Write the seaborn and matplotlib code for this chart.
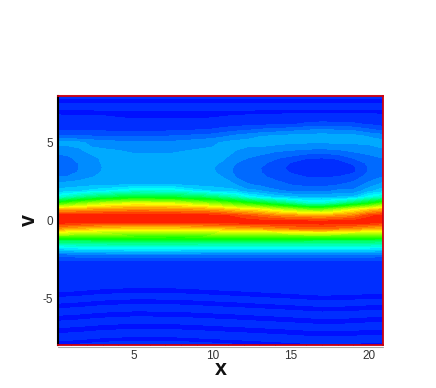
import numpy as np
import seaborn as sns
import matplotlib
matplotlib.use("Agg")
import matplotlib.pyplot as plt

# stations
x_stations = [0.15, 0.8, 1.5, 2.2, 3, 5, 7.5, 10, 10.7, 11.5, 12.2, 13, 14, 15, 16, 17, 18, 19, 20, 20.9]
v_rows = [8, 7.65, 7.3, 7, 6.6, 6.2, 5.8, 5.4, 5, 4.5, 4, 3.7, 3.4, 3.1, 2.8,
          2.3, 1.9, 1.5, 1.1, 0.7, 0.3, -0.1, -0.5, -0.9, -1.3, -1.7, -2.2, -2.7]
v_low = [-3.4, -4.1, -4.5, -4.85, -5.2, -5.6, -6, -6.4, -6.8, -7.2, -7.6, -8]

# level per column, from v=8 down to v=-2.7
f_a = [.036, .027, .04, .028, .036, .04, .06, .105, .17, .14, .115, .10, .095, .10, .129,
       .175, .205, .30, .55, .84, .99, .99, .87, .67, .42, .26, .11, .045]
f_b = [.036, .027, .04, .028, .035, .04, .06, .102, .172, .145, .122, .112, .108, .113, .133,
       .177, .21, .33, .59, .845, .99, .985, .855, .665, .42, .27, .115, .045]
f_c = [.036, .027, .04, .028, .035, .04, .06, .10, .17, .157, .139, .131, .129, .133, .145,
       .18, .22, .37, .63, .85, .99, .98, .84, .66, .42, .28, .12, .045]
f_d = [.036, .027, .04, .028, .034, .04, .06, .10, .155, .167, .153, .145, .143, .147, .158,
       .183, .235, .40, .665, .86, .99, .978, .825, .65, .425, .28, .122, .045]
f_e = [.036, .027, .04, .029, .034, .04, .06, .098, .145, .166, .165, .164, .162, .164, .168,
       .185, .25, .43, .70, .87, .99, .975, .81, .64, .43, .285, .125, .045]
f_f = [.036, .027, .04, .031, .031, .04, .058, .097, .135, .157, .168, .17, .172, .175, .178,
       .195, .295, .48, .74, .88, .99, .97, .80, .625, .44, .29, .13, .045]
f_g = [.036, .027, .04, .031, .031, .04, .06, .10, .138, .158, .168, .17, .172, .175, .178,
       .195, .29, .46, .73, .875, .99, .97, .80, .62, .44, .29, .13, .045]
f_h = [.036, .027, .04, .03, .032, .042, .07, .115, .155, .166, .166, .165, .163, .166, .172,
       .18, .22, .41, .65, .85, .985, .985, .82, .63, .43, .28, .125, .045]
f_i = [.036, .027, .04, .03, .033, .045, .08, .125, .165, .172, .165, .158, .15, .15, .16,
       .175, .21, .37, .615, .83, .975, .985, .83, .635, .43, .28, .125, .045]
f_j = [.036, .027, .04, .029, .034, .05, .09, .14, .175, .161, .14, .13, .122, .122, .127,
       .161, .205, .335, .58, .80, .96, .99, .84, .64, .43, .28, .125, .045]
f_k = [.036, .027, .04, .029, .035, .052, .095, .15, .172, .152, .129, .118, .11, .11, .115,
       .133, .172, .285, .54, .79, .94, .99, .85, .635, .43, .28, .125, .045]
f_l = [.036, .027, .04, .028, .036, .055, .105, .16, .178, .145, .118, .106, .099, .099, .104,
       .122, .165, .25, .50, .77, .92, .99, .86, .63, .43, .28, .12, .045]
f_m = [.036, .027, .04, .028, .038, .058, .112, .17, .172, .135, .10, .087, .078, .08, .088,
       .11, .135, .22, .44, .72, .89, .99, .88, .645, .43, .28, .12, .045]
f_n = [.036, .027, .04, .028, .04, .06, .12, .175, .165, .128, .085, .063, .056, .062, .075,
       .096, .125, .20, .38, .68, .87, .99, .90, .66, .43, .28, .12, .045]
f_o = [.036, .027, .04, .027, .043, .07, .13, .178, .163, .122, .066, .05, .043, .05, .064,
       .088, .118, .19, .32, .63, .86, .99, .91, .665, .425, .28, .12, .045]
f_p = [.036, .027, .04, .027, .045, .075, .135, .18, .161, .12, .062, .048, .04, .045, .062,
       .087, .118, .19, .31, .62, .85, .99, .92, .67, .42, .28, .12, .045]
f_q = [.036, .027, .04, .027, .043, .072, .13, .178, .165, .124, .068, .052, .044, .05, .065,
       .095, .135, .195, .36, .68, .87, .99, .90, .66, .42, .28, .12, .045]
f_r = [.036, .027, .04, .028, .04, .07, .125, .175, .165, .135, .097, .07, .056, .06, .08,
       .108, .135, .20, .43, .75, .89, .99, .88, .65, .42, .28, .12, .045]
f_s = [.036, .027, .04, .028, .04, .06, .105, .16, .168, .142, .118, .105, .099, .10, .11,
       .14, .185, .28, .50, .80, .96, .99, .85, .66, .42, .28, .12, .045]
f_t = [.036, .027, .04, .028, .038, .05, .09, .15, .172, .157, .128, .118, .113, .113, .13,
       .175, .21, .32, .59, .84, .98, .975, .83, .66, .41, .27, .115, .045]

# faint bands under the jet, same at every x but they follow the wave
ripple_low = [.046, .038, .027, .038, .027, .038, .027, .038, .027, .038, .029, .038]
ripple_shift = [-.28, -.24, -.2, -.14, -.08, 0, -.02, -.13, -.17, -.2,
                -.24, -.28, -.33, -.38, -.44, -.49, -.47, -.45, -.38, -.38]

xtick_major = [5, 10, 15, 20]
ytick_major = [-5, 0, 5]

columns = [f_a, f_b, f_c, f_d, f_e, f_f, f_g, f_h, f_i, f_j,
           f_k, f_l, f_m, f_n, f_o, f_p, f_q, f_r, f_s, f_t]
upper = np.array(columns).T
lower = np.tile(np.array(ripple_low)[:, None], (1, len(x_stations)))
Z = np.vstack([upper, lower])

X = np.tile(np.array(x_stations), (Z.shape[0], 1))
Y = np.tile(np.array(v_rows + v_low)[:, None], (1, len(x_stations)))
Y[len(v_rows) + 1:, :] += np.array(ripple_shift)

sns.set_theme(style="white")
plt.rcParams['font.family'] = ['Liberation Sans', 'DejaVu Sans']
plt.rcParams['axes.unicode_minus'] = False

levels = np.arange(32) / 31
rainbow = sns.blend_palette(["#0010ff", "#00ffff", "#00ff00", "#ffff00", "#ff0000"], 32)[:31]

fig = plt.figure(figsize=(4.36, 3.88), dpi=100)
ax = fig.add_axes([58 / 436, 1 - 345 / 388, 325 / 436, 249 / 388])
ax.contourf(X, Y, Z, levels=levels, colors=rainbow)
ax.set_xlim(0.15, 20.9)
ax.set_ylim(-8, 8)

ax.set_xticks(xtick_major)
ax.set_yticks(ytick_major)
ax.set_xticks(range(1, 21), minor=True)
ax.set_yticks(range(-7, 8), minor=True)
ax.tick_params(which='major', direction='in', length=5, width=1.2, color='black',
               left=True, bottom=True, labelsize=8.5, labelcolor='#333333', pad=3.5)
ax.tick_params(which='minor', direction='in', length=2.5, width=0.6, color='#222244',
               left=True, bottom=True)

ax.spines['left'].set_color('black')
ax.spines['left'].set_linewidth(1.5)
for side in ['top', 'right', 'bottom']:
    ax.spines[side].set_color('#cc0010')
    ax.spines[side].set_linewidth(1.3)
ax.axhline(-8.12, color='#aaaaaa', lw=0.8, clip_on=False)
ax.axhline(8.07, color='#f0a0a0', lw=0.8, clip_on=False)

ax.set_xlabel('x', fontsize=15.5, fontweight='bold', color='#111111', labelpad=-2)
ax.set_ylabel('v', fontsize=15.5, fontweight='bold', color='#111111', labelpad=2)

fig.savefig('out.png', dpi=100)
